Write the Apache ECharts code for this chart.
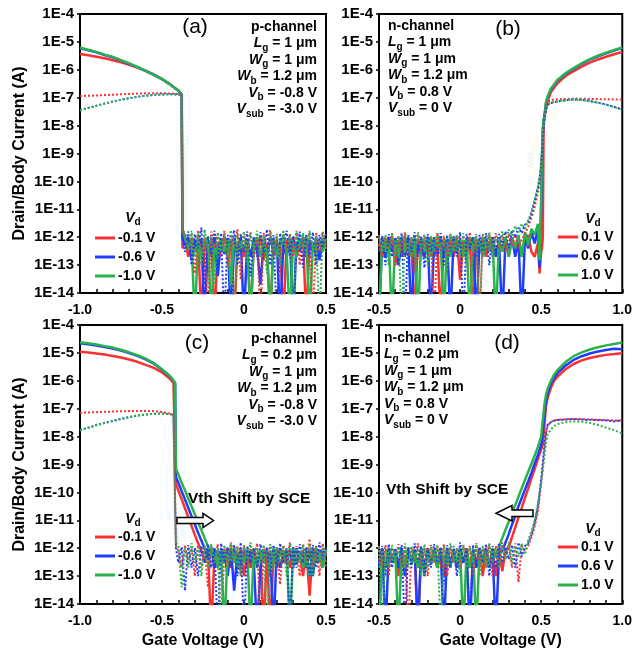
<!DOCTYPE html>
<html>
<head>
<meta charset="utf-8">
<script src="https://cdn.jsdelivr.net/npm/echarts@6/dist/echarts.min.js"></script>
<style>
  html, body { margin: 0; padding: 0; background: #fff; }
  #chart { width: 635px; height: 658px; }
</style>
</head>
<body>
<div id="chart"></div>
<script>
// ---- Gate voltage grids (V) ----
const vgA = [-1.0,-0.95,-0.9,-0.85,-0.8,-0.75,-0.7,-0.65,-0.6,-0.55,-0.5,-0.45,-0.42,-0.4,-0.38,-0.375,
  -0.36,-0.34,-0.32,-0.3,-0.28,-0.26,-0.24,-0.22,-0.2,-0.18,-0.16,-0.14,-0.12,-0.1,-0.08,-0.06,-0.04,-0.02,0,
  0.02,0.04,0.06,0.08,0.1,0.12,0.14,0.16,0.18,0.2,0.22,0.24,0.26,0.28,0.3,0.32,0.34,0.36,0.38,0.4,0.42,0.44,0.46,0.48,0.5];
const vgB = [-0.5,-0.48,-0.46,-0.44,-0.42,-0.4,-0.38,-0.36,-0.34,-0.32,-0.3,-0.28,-0.26,-0.24,-0.22,-0.2,-0.18,-0.16,-0.14,-0.12,-0.1,-0.08,-0.06,-0.04,-0.02,
  0,0.02,0.04,0.06,0.08,0.1,0.12,0.14,0.16,0.18,0.2,0.22,0.24,0.26,0.28,0.3,0.32,0.34,0.36,0.38,0.4,0.42,0.44,
  0.46,0.48,0.49,0.5,0.505,0.51,0.515,0.52,0.53,0.54,0.56,0.6,0.65,0.7,0.75,0.8,0.85,0.9,0.95,1.0];
const vgC = [-1.0,-0.95,-0.9,-0.85,-0.8,-0.75,-0.7,-0.65,-0.6,-0.55,-0.5,-0.45,-0.43,-0.42,-0.415,
  -0.4,-0.38,-0.36,-0.34,-0.32,-0.3,-0.28,-0.26,-0.24,-0.22,-0.2,-0.18,-0.16,-0.14,-0.12,-0.1,-0.08,-0.06,-0.04,-0.02,
  0,0.02,0.04,0.06,0.08,0.1,0.12,0.14,0.16,0.18,0.2,0.22,0.24,0.26,0.28,0.3,0.32,0.34,0.36,0.38,0.4,0.42,0.44,0.46,0.48,0.5];
const vgD = [-0.5,-0.48,-0.46,-0.44,-0.42,-0.4,-0.38,-0.36,-0.34,-0.32,-0.3,-0.28,-0.26,-0.24,-0.22,-0.2,-0.18,-0.16,-0.14,-0.12,-0.1,-0.08,-0.06,-0.04,-0.02,
  0,0.02,0.04,0.06,0.08,0.1,0.12,0.14,0.16,0.18,0.2,0.22,0.24,0.26,0.28,0.3,0.32,0.34,0.36,0.38,0.4,0.42,0.44,0.46,0.48,0.5,
  0.51,0.52,0.53,0.54,0.56,0.58,0.6,0.65,0.7,0.75,0.8,0.85,0.9,0.95,1.0];

// ---- (a) p-channel, Lg = 1 um : drain current (solid) ----
const idA_r = [3.7e-6,3.3e-6,2.95e-6,2.6e-6,2.2e-6,1.86e-6,1.5e-6,1.2e-6,9.1e-7,6.8e-7,4.7e-7,3.0e-7,2.2e-7,1.8e-7,1.3e-7,4e-13,
  8e-13,2e-13,9e-13,3e-13,1e-12,1e-15,7e-13,2.5e-13,9e-13,1e-15,6e-13,3e-13,1.1e-12,2e-13,8e-13,1e-15,5e-13,9e-13,2e-13,7e-13,1e-15,8e-13,3e-13,1e-12,1.5e-13,6e-13,1e-15,9e-13,2.5e-13,7e-13,1e-15,8e-13,3e-13,1e-12,2e-13,6e-13,9e-13,1e-15,7e-13,3e-13,8e-13,2e-13,9e-13,4e-13];
const idA_b = [5.9e-6,5.0e-6,4.2e-6,3.4e-6,2.8e-6,2.15e-6,1.65e-6,1.24e-6,9.2e-7,6.6e-7,4.6e-7,3.0e-7,2.2e-7,1.8e-7,1.3e-7,1e-12,
  5e-13,1e-12,1.5e-13,8e-13,3e-13,9e-13,1e-15,7e-13,2e-13,1e-12,4e-14,8e-13,2.5e-13,9e-13,1e-15,6e-13,3e-13,1e-12,1e-15,8e-13,2e-13,9e-13,4e-13,2e-14,7e-13,2e-13,1e-12,3e-13,8e-13,1e-15,6e-13,2e-13,9e-13,1e-15,7e-13,3e-13,1e-12,2e-13,8e-13,3e-13,9e-13,1.5e-13,7e-13,5e-13];
const idA_g = [6.2e-6,5.2e-6,4.4e-6,3.5e-6,2.9e-6,2.2e-6,1.7e-6,1.26e-6,9.3e-7,6.6e-7,4.6e-7,3.0e-7,2.2e-7,1.8e-7,1.3e-7,2e-12,
  1e-12,3e-13,8e-13,1e-15,9e-13,2e-13,7e-13,1e-12,1e-15,6e-13,2e-13,9e-13,3e-13,8e-13,2e-14,1e-12,2e-13,7e-13,3e-13,9e-13,1e-15,6e-13,1e-12,2e-13,8e-13,3e-13,1e-15,9e-13,2e-13,7e-13,1e-12,3e-13,1e-15,8e-13,2e-13,9e-13,4e-13,1e-12,1e-15,6e-13,2e-13,8e-13,3e-13,9e-13];
// body current (dotted)
const ibA_r = [1.15e-7,1.17e-7,1.2e-7,1.24e-7,1.28e-7,1.32e-7,1.36e-7,1.4e-7,1.43e-7,1.45e-7,1.45e-7,1.42e-7,1.38e-7,1.35e-7,1.3e-7,1.5e-12,
  1.5e-12,2e-13,1.2e-12,5e-14,1.8e-12,3e-13,1e-12,1e-15,1.6e-12,4e-13,1.3e-12,2e-13,1.7e-12,1e-13,1.1e-12,5e-13,1.9e-12,3e-14,1.2e-12,3e-13,1.5e-12,2e-13,1e-12,1e-15,1.4e-12,4e-13,1.8e-12,2e-13,1.1e-12,6e-14,1.6e-12,3e-13,1.3e-12,2e-13,1.7e-12,1e-13,1.2e-12,4e-13,1.5e-12,1e-15,1.4e-12,3e-13,1.6e-12,5e-13];
const ibA_b = [3.6e-8,4.3e-8,5.2e-8,6.2e-8,7.3e-8,8.4e-8,9.6e-8,1.08e-7,1.18e-7,1.26e-7,1.31e-7,1.33e-7,1.32e-7,1.3e-7,1.28e-7,8e-13,
  3e-13,1.6e-12,1e-13,1.3e-12,4e-13,2.2e-12,2e-14,1.1e-12,3e-13,1.7e-12,2e-13,1.4e-12,1e-15,1.2e-12,5e-13,1.8e-12,1e-13,1.3e-12,3e-13,1.6e-12,4e-14,1e-12,2e-13,1.5e-12,3e-13,1.9e-12,1e-13,1.2e-12,1e-15,1.4e-12,4e-13,1.7e-12,2e-13,1.1e-12,3e-13,1.6e-12,8e-14,1.3e-12,2e-13,1.5e-12,1e-13,1.2e-12,4e-13,1.4e-12];
const ibA_g = [3.5e-8,4.2e-8,5.1e-8,6.1e-8,7.2e-8,8.4e-8,9.6e-8,1.08e-7,1.18e-7,1.26e-7,1.31e-7,1.33e-7,1.32e-7,1.3e-7,1.28e-7,1.2e-12,
  1.2e-12,4e-13,1.7e-12,2e-13,1.4e-12,1e-13,1.9e-12,3e-13,1.1e-12,2e-14,1.5e-12,3e-13,1.3e-12,2e-13,1.8e-12,1e-15,1.2e-12,4e-13,1.6e-12,1e-13,1.4e-12,3e-13,1.7e-12,2e-13,1.1e-12,5e-14,1.5e-12,3e-13,1.3e-12,1e-13,1.8e-12,2e-13,1.2e-12,1e-15,1.6e-12,4e-13,1.4e-12,2e-13,1.7e-12,3e-13,1.1e-12,1e-15,1.5e-12,3e-13];

// ---- (b) n-channel, Lg = 1 um ----
const idB_r = [6e-13,2e-13,9e-13,3e-13,1e-12,1e-13,8e-13,2e-13,1e-12,3e-13,7e-13,1e-15,9e-13,2e-13,8e-13,4e-13,1e-12,2e-13,7e-13,1e-15,9e-13,3e-13,8e-13,2e-13,1e-12,3e-14,7e-13,2e-13,9e-13,1e-15,8e-13,3e-13,1e-12,2e-13,6e-13,9e-13,2e-13,8e-13,3e-13,1e-12,2e-13,9e-13,4e-13,1e-12,2e-13,8e-13,1.2e-12,3e-13,
  2e-13,6e-13,5e-14,3e-13,4e-13,1e-12,1e-8,2e-8,4e-8,7.5e-8,1.6e-7,3.3e-7,6e-7,9e-7,1.3e-6,1.8e-6,2.35e-6,2.95e-6,3.6e-6,4.4e-6];
const idB_b = [1e-15,8e-13,2e-13,1e-12,3e-13,9e-13,1e-13,7e-13,2e-13,1e-12,1e-15,8e-13,3e-13,9e-13,2e-13,1e-12,1e-15,7e-13,3e-13,9e-13,2e-13,8e-13,1e-15,1e-12,3e-13,7e-13,2e-13,9e-13,4e-13,1e-12,1e-15,8e-13,2e-13,9e-13,3e-13,1e-12,2e-13,7e-13,1e-15,9e-13,3e-13,1e-12,2e-13,8e-13,1e-15,1e-12,4e-13,1.5e-12,
  6e-13,2e-12,8e-14,1e-11,6e-10,6e-9,1.5e-8,2.1e-8,6.5e-8,1.05e-7,2e-7,4.1e-7,7.2e-7,1.1e-6,1.62e-6,2.3e-6,3.05e-6,3.9e-6,4.9e-6,6.0e-6];
const idB_g = [1e-15,1e-12,3e-13,8e-13,1e-15,9e-13,2e-13,1e-12,3e-13,7e-13,2e-13,1e-12,1e-15,8e-13,3e-13,9e-13,2e-13,1e-12,4e-13,8e-13,1e-15,9e-13,2e-13,1e-12,3e-13,8e-13,2e-13,9e-13,1e-15,1e-12,3e-13,8e-13,2e-13,9e-13,3e-13,1e-12,1e-15,8e-13,3e-13,1e-12,2e-13,9e-13,4e-13,1.2e-12,2e-13,1.5e-12,5e-13,2e-12,
  1.2e-12,3e-12,1.5e-13,3e-11,1e-9,8e-9,1.6e-8,2.2e-8,7e-8,1.1e-7,2.1e-7,4.3e-7,7.5e-7,1.15e-6,1.7e-6,2.4e-6,3.2e-6,4.1e-6,5.1e-6,6.3e-6];
const ibB_r = [1.2e-12,2e-13,1e-12,4e-13,1.4e-12,1e-13,1.1e-12,3e-13,1.5e-12,2e-13,1e-12,5e-14,1.3e-12,3e-13,1.2e-12,2e-13,1e-12,1e-15,1.4e-12,3e-13,1.1e-12,2e-13,1.3e-12,4e-13,1.2e-12,1e-13,1e-12,3e-13,1.5e-12,2e-13,1.1e-12,1e-15,1.3e-12,3e-13,1.2e-12,2e-13,1.4e-12,4e-13,1.1e-12,3e-13,1.3e-12,5e-13,1.2e-12,4e-13,8e-13,1.3e-12,2.4e-12,5e-12,
  1.2e-11,4e-11,9e-11,3e-10,8e-10,2.5e-9,8e-9,2e-8,5e-8,7e-8,8.3e-8,8.8e-8,9e-8,9.2e-8,9.2e-8,9e-8,8.9e-8,8.8e-8,8.7e-8,8.6e-8];
const ibB_b = [3e-13,1.1e-12,1e-13,1.3e-12,2e-13,1e-12,4e-13,1.4e-12,1e-15,1.2e-12,3e-13,1.5e-12,2e-13,1.1e-12,8e-14,1.3e-12,3e-13,1e-12,2e-13,1.4e-12,1e-13,1.2e-12,3e-13,1.1e-12,2e-13,1.5e-12,1e-15,1.3e-12,4e-13,1e-12,2e-13,1.2e-12,3e-13,1.4e-12,1e-13,1.1e-12,3e-13,1.3e-12,5e-13,1.6e-12,4e-13,1.8e-12,1e-12,2.2e-12,1.4e-12,2.8e-12,3.5e-12,7e-12,
  2e-11,6e-11,1.3e-10,4e-10,1e-9,3e-9,9e-9,2e-8,4e-8,5.5e-8,6.5e-8,7.3e-8,8e-8,8.6e-8,8.4e-8,7.6e-8,6.7e-8,5.7e-8,4.7e-8,3.8e-8];
const ibB_g = [1e-12,3e-13,1.2e-12,1e-13,1.4e-12,2e-13,1.1e-12,1e-15,1.3e-12,3e-13,1e-12,2e-13,1.5e-12,4e-13,1.2e-12,1e-13,1.1e-12,3e-13,1.4e-12,2e-13,1e-12,6e-14,1.3e-12,3e-13,1.2e-12,2e-13,1.4e-12,1e-13,1.1e-12,3e-13,1.3e-12,1e-15,1.2e-12,4e-13,1.5e-12,2e-13,1.1e-12,5e-13,1.6e-12,6e-13,1.9e-12,1.1e-12,2.5e-12,1.5e-12,3e-12,2e-12,4e-12,8e-12,
  2.2e-11,6.5e-11,1.4e-10,4.2e-10,1.1e-9,3.2e-9,9.5e-9,2.1e-8,4.1e-8,5.6e-8,6.6e-8,7.4e-8,8.1e-8,8.6e-8,8.3e-8,7.5e-8,6.6e-8,5.6e-8,4.6e-8,3.7e-8];

// ---- (c) p-channel, Lg = 0.2 um ----
const idC_r = [1.1e-5,1.03e-5,9.6e-6,8.8e-6,7.8e-6,6.8e-6,5.8e-6,4.8e-6,3.7e-6,2.9e-6,2.0e-6,1.15e-6,8.3e-7,7.2e-7,2e-10,
  1.15e-10,5.6e-11,2.7e-11,1.3e-11,6.3e-12,3e-12,1.5e-12,8e-13,
  3e-13,1e-12,1e-15,6e-13,2e-13,9e-13,3e-13,1e-12,2e-13,8e-13,3e-13,9e-13,1e-13,7e-13,2e-13,1e-12,3e-13,8e-13,1e-15,9e-13,1e-15,7e-13,2e-13,1e-12,3e-13,8e-13,2e-13,9e-13,3e-13,7e-13,1e-13,8e-13,2e-14,1e-12,3e-13,9e-13,2e-13,8e-13];
const idC_b = [2.2e-5,2.02e-5,1.84e-5,1.62e-5,1.43e-5,1.21e-5,9.8e-6,7.8e-6,5.9e-6,4.1e-6,2.5e-6,1.4e-6,1.0e-6,8.2e-7,3.6e-10,
  2.2e-10,1.1e-10,5.6e-11,2.8e-11,1.4e-11,7.2e-12,3.6e-12,1.9e-12,1e-12,
  4e-13,1e-12,2e-13,8e-13,3e-13,9e-13,1e-13,1e-12,3e-14,7e-13,2e-13,9e-13,2e-13,8e-13,3e-13,1e-15,2e-13,9e-13,3e-13,8e-13,1e-15,1e-12,2e-13,7e-13,3e-13,9e-13,2e-13,1e-12,4e-13,8e-13,2e-13,9e-13,1e-13,1e-12,3e-13,8e-13,5e-13];
const idC_g = [2.4e-5,2.2e-5,2.0e-5,1.75e-5,1.55e-5,1.3e-5,1.05e-5,8.3e-6,6.2e-6,4.3e-6,2.6e-6,1.45e-6,1.05e-6,8.5e-7,7e-10,
  4.4e-10,2.2e-10,1.2e-10,6e-11,3.2e-11,1.65e-11,8.5e-12,4.5e-12,2.3e-12,1.2e-12,
  5e-13,1e-12,2e-13,9e-13,1e-15,8e-13,3e-13,1e-12,2e-13,7e-13,3e-13,9e-13,1e-15,1e-12,2e-13,8e-13,3e-13,9e-13,1e-13,1e-12,2e-13,8e-13,4e-13,9e-13,1e-15,1e-12,3e-13,8e-13,2e-13,9e-13,1e-13,1e-12,3e-13,7e-13,2e-13,9e-13];
const ibC_r = [7.2e-8,7.3e-8,7.5e-8,7.7e-8,7.9e-8,8.1e-8,8.2e-8,8.3e-8,8.3e-8,8.2e-8,7.6e-8,6.6e-8,6e-8,5.7e-8,1.2e-12,
  8e-13,2e-13,1.3e-12,3e-13,1e-12,1e-13,1.5e-12,2e-13,1.1e-12,4e-14,1.2e-12,3e-13,1.4e-12,1e-15,1e-12,2e-13,1.6e-12,3e-13,1.2e-12,1e-13,1.3e-12,2e-13,1e-12,4e-13,1.5e-12,1e-15,1.2e-12,3e-13,1.4e-12,2e-13,1.1e-12,5e-14,1.3e-12,3e-13,1.6e-12,2e-13,1.2e-12,1e-13,1.4e-12,3e-13,2.2e-12,2e-13,1.3e-12,1e-13,1.5e-12,3e-13];
const ibC_b = [1.7e-8,2.1e-8,2.6e-8,3.1e-8,3.6e-8,4.3e-8,5e-8,5.7e-8,6.2e-8,6.6e-8,6.7e-8,6.4e-8,6e-8,5.7e-8,1e-12,
  3e-13,1.1e-12,3e-14,1.3e-12,2e-13,1e-12,1e-13,1.2e-12,3e-13,1.4e-12,2e-13,1e-12,1e-15,1.5e-12,3e-13,1.1e-12,2e-13,1.3e-12,1e-13,1.6e-12,1e-15,1.2e-12,3e-13,1e-12,2e-13,1.4e-12,4e-13,1.1e-12,1e-13,1.3e-12,2e-13,1.5e-12,3e-13,1e-12,1e-15,1.2e-12,2e-13,1.4e-12,3e-13,1.1e-12,1e-13,1.3e-12,2e-13,1.6e-12,4e-13,1.2e-12];
const ibC_g = [1.65e-8,2.05e-8,2.55e-8,3.05e-8,3.6e-8,4.3e-8,5e-8,5.7e-8,6.2e-8,6.6e-8,6.7e-8,6.4e-8,6e-8,5.7e-8,1.5e-12,
  1.3e-12,4e-14,1e-12,2e-13,1.5e-12,3e-13,1.1e-12,1e-13,1.2e-12,2e-13,1.4e-12,3e-13,1e-12,1e-15,1.3e-12,2e-13,1.5e-12,3e-13,1.1e-12,1e-13,1.2e-12,4e-13,1.6e-12,2e-13,1e-12,3e-13,1.3e-12,1e-15,1.4e-12,2e-13,1.1e-12,3e-13,1.2e-12,1e-13,1.5e-12,2e-13,1e-12,3e-13,1.3e-12,2e-13,1.4e-12,1e-13,1.1e-12,3e-13,1.2e-12,2e-13];

// ---- (d) n-channel, Lg = 0.2 um ----
const idD_r = [3e-13,9e-13,2e-13,1e-12,3e-13,8e-13,1e-13,9e-13,2e-13,1e-12,3e-13,8e-13,1e-15,9e-13,2e-13,1e-12,3e-13,7e-13,2e-13,9e-13,1e-13,1e-12,3e-13,8e-13,2e-13,9e-13,3e-13,1e-12,2e-13,8e-13,3e-13,9e-13,1e-13,1e-12,2e-13,8e-13,1e-13,9e-13,1.5e-13,8e-13,
  1.1e-12,2.5e-12,5.6e-12,1.26e-11,2.8e-11,6.3e-11,1.4e-10,3.2e-10,7e-10,1.6e-9,3.5e-9,
  5.6e-9,2.5e-8,1.26e-7,2.5e-7,5.6e-7,1e-6,1.4e-6,2.6e-6,4e-6,5.4e-6,6.6e-6,7.6e-6,8.5e-6,9.1e-6,9.8e-6];
const idD_b = [2e-13,1e-12,1e-15,8e-13,3e-13,9e-13,2e-13,1e-12,1e-13,8e-13,3e-13,9e-13,1e-15,1e-12,2e-13,8e-13,3e-13,9e-13,2e-13,1e-12,1e-15,8e-13,3e-13,9e-13,2e-13,1e-12,3e-13,8e-13,1e-15,9e-13,2e-13,1e-12,3e-13,8e-13,2e-13,9e-13,1e-15,6e-13,
  8e-13,1.6e-12,3.2e-12,7e-12,1.4e-11,3.2e-11,6.3e-11,1.26e-10,2.5e-10,5e-10,1.1e-9,2.2e-9,5e-9,
  1.26e-8,6.3e-8,2e-7,3.5e-7,8e-7,1.26e-6,1.9e-6,3.5e-6,5.6e-6,7.6e-6,9.5e-6,1.12e-5,1.26e-5,1.4e-5,1.35e-5];
const idD_g = [1e-15,9e-13,2e-13,1e-12,3e-13,8e-13,1e-15,9e-13,2e-13,1e-12,3e-13,7e-13,2e-13,1e-12,1e-13,8e-13,3e-13,9e-13,2e-13,1e-12,3e-13,8e-13,2e-13,9e-13,3e-13,1e-12,1e-15,8e-13,2e-13,9e-13,1e-15,1e-12,3e-13,8e-13,2e-13,1e-12,5e-13,
  1.15e-12,2.3e-12,4.6e-12,9e-12,1.8e-11,3.5e-11,7e-11,1.4e-10,2.8e-10,5.5e-10,1.07e-9,2.1e-9,4.3e-9,1e-8,
  4e-8,1.4e-7,3.2e-7,5.2e-7,1e-6,1.66e-6,2.4e-6,4.7e-6,7.6e-6,1.05e-5,1.32e-5,1.6e-5,1.86e-5,2.1e-5,2.35e-5];
const ibD_r = [1.1e-12,2e-13,1.3e-12,1e-13,1e-12,3e-13,1.4e-12,2e-13,1.2e-12,1e-15,1.1e-12,3e-13,1.5e-12,2e-13,1e-12,1e-13,1.3e-12,3e-13,1.2e-12,2e-13,1.4e-12,1e-13,1.1e-12,3e-13,1e-12,2e-13,1.3e-12,4e-13,1.2e-12,1e-13,1.5e-12,3e-13,1.1e-12,2e-13,1.4e-12,1e-13,1.2e-12,3e-13,1.6e-12,4e-13,1.3e-12,2e-13,1.5e-12,6e-14,1.2e-12,
  8e-13,1.2e-12,2.5e-12,6e-12,2e-11,2e-10,
  8e-10,3e-9,1.4e-8,2.5e-8,3.4e-8,3.8e-8,4e-8,4.2e-8,4.3e-8,4.2e-8,4.1e-8,4e-8,3.9e-8,3.8e-8,3.8e-8];
const ibD_b = [3e-13,1.2e-12,1e-13,1.4e-12,2e-13,1e-12,3e-13,1.3e-12,1e-15,1.1e-12,2e-13,1.5e-12,3e-13,1.2e-12,1e-13,1e-12,2e-13,1.4e-12,3e-13,1.1e-12,5e-14,1.3e-12,2e-13,1.2e-12,1e-13,1.6e-12,3e-13,1e-12,1e-15,1.3e-12,2e-13,1.1e-12,3e-13,1.4e-12,1e-13,1.2e-12,2e-13,1.5e-12,3e-13,1.1e-12,4e-13,1.3e-12,2e-13,1.6e-12,5e-13,1.2e-12,
  1.5e-12,3e-12,8e-12,3e-11,3e-10,
  1.2e-9,5e-9,1.6e-8,2.6e-8,3.3e-8,3.7e-8,3.9e-8,4.1e-8,4.2e-8,4.1e-8,4e-8,3.9e-8,3.8e-8,3.5e-8,3.8e-8];
const ibD_g = [1.2e-12,1e-15,1e-12,2e-13,1.3e-12,3e-13,1.1e-12,1e-13,1.5e-12,2e-13,1.2e-12,3e-13,1e-12,1e-13,1.4e-12,2e-13,1.1e-12,3e-13,1.3e-12,1e-15,1.2e-12,2e-13,1.5e-12,3e-13,1e-12,1e-13,1.3e-12,2e-13,1.1e-12,3e-13,1.4e-12,1e-13,1.2e-12,2e-13,1.5e-12,3e-13,1e-12,2e-13,1.3e-12,4e-13,1.6e-12,3e-13,1.2e-12,5e-13,1.5e-12,6e-13,
  2e-12,4e-12,1e-11,4e-11,2.5e-10,
  6e-10,2e-9,6e-9,1.2e-8,1.8e-8,2.4e-8,2.8e-8,3.3e-8,3.5e-8,3.4e-8,3.1e-8,2.6e-8,2.1e-8,1.7e-8,1.3e-8];

// ---- legend names and tick labels ----
const P_NAMES = ['-0.1 V', '-0.6 V', '-1.0 V'];
const N_NAMES = ['0.1 V', '0.6 V', '1.0 V'];
const Y_LABELS = ['1E-14','1E-13','1E-12','1E-11','1E-10','1E-9','1E-8','1E-7','1E-6','1E-5','1E-4'];
const X_TICKS_P = [-1.0, -0.5, 0, 0.5];
const X_LABELS_P = ['-1.0', '-0.5', '0', '0.5'];
const X_TICKS_N = [-0.5, 0, 0.5, 1.0];
const X_LABELS_N = ['-0.5', '0', '0.5', '1.0'];

const FONT = '"Liberation Sans", Arial, Helvetica, sans-serif';
const COLORS = ['#f83232', '#1f3cff', '#2bb24c'];

const panels = [
  { vg: vgA, id: [idA_r, idA_b, idA_g], ib: [ibA_r, ibA_b, ibA_g], names: P_NAMES, xmin: -1.0, xmax: 0.5, ticks: X_TICKS_P, labels: X_LABELS_P,
    grid: { left: 80, top: 14, width: 246, height: 279 } },
  { vg: vgB, id: [idB_r, idB_b, idB_g], ib: [ibB_r, ibB_b, ibB_g], names: N_NAMES, xmin: -0.5, xmax: 1.0, ticks: X_TICKS_N, labels: X_LABELS_N,
    grid: { left: 379, top: 14, width: 246, height: 279 } },
  { vg: vgC, id: [idC_r, idC_b, idC_g], ib: [ibC_r, ibC_b, ibC_g], names: P_NAMES, xmin: -1.0, xmax: 0.5, ticks: X_TICKS_P, labels: X_LABELS_P,
    grid: { left: 80, top: 325, width: 246, height: 279 } },
  { vg: vgD, id: [idD_r, idD_b, idD_g], ib: [ibD_r, ibD_b, ibD_g], names: N_NAMES, xmin: -0.5, xmax: 1.0, ticks: X_TICKS_N, labels: X_LABELS_N,
    grid: { left: 379, top: 325, width: 246, height: 279 } }
];

const pts = (xs, ys) => xs.map((x, i) => [x, ys[i]]);
const boldText = { fontFamily: FONT, fontWeight: 'bold', color: '#000' };

const grids = [], xAxes = [], yAxes = [], series = [];
panels.forEach((p, k) => {
  grids.push(Object.assign({ show: true, borderColor: '#000', borderWidth: 2, backgroundColor: 'transparent' }, p.grid));
  xAxes.push({
    type: 'value', gridIndex: k, min: p.xmin, max: p.xmax, interval: 0.5,
    axisLine: { onZero: false, lineStyle: { color: '#000', width: 2 } },
    axisTick: { inside: true, length: 4, lineStyle: { color: '#000', width: 1.5 } },
    minorTick: { show: true, splitNumber: 5, length: 4, lineStyle: { color: '#000', width: 1.5 } },
    splitLine: { show: false },
    axisLabel: Object.assign({ fontSize: 14, margin: 10,
      formatter: v => { const i = p.ticks.findIndex(t => Math.abs(t - v) < 1e-9); return i < 0 ? '' : p.labels[i]; } }, boldText),
    name: k >= 2 ? 'Gate Voltage (V)' : '', nameLocation: 'middle', nameGap: 29,
    nameTextStyle: Object.assign({ fontSize: 16 }, boldText)
  });
  yAxes.push({
    type: 'log', logBase: 10, gridIndex: k, min: 1e-14, max: 1e-4, splitNumber: 10, interval: 1,
    axisLine: { onZero: false, lineStyle: { color: '#000', width: 2 } },
    axisTick: { show: true, length: 3, lineStyle: { color: '#000', width: 1.5 } },
    splitLine: { show: false },
    axisLabel: Object.assign({ fontSize: 15, margin: 6, showMinLabel: true, showMaxLabel: true,
      formatter: v => Y_LABELS[Math.round(Math.log10(v)) + 14] || '' }, boldText),
    name: (k % 2 === 0) ? 'Drain/Body Current (A)' : '', nameLocation: 'middle', nameGap: 52,
    nameTextStyle: Object.assign({ fontSize: 16 }, boldText)
  });
  // drain current: solid lines
  p.id.forEach((ys, j) => series.push({
    type: 'line', name: p.names[j], xAxisIndex: k, yAxisIndex: k, data: pts(p.vg, ys),
    symbol: 'none', clip: true, z: 2 + j * 0.1,
    lineStyle: { color: COLORS[j], width: 2.5 }, itemStyle: { color: COLORS[j] }
  }));
});
panels.forEach((p, k) => {
  // body current: dotted lines
  p.ib.forEach((ys, j) => series.push({
    type: 'line', name: 'Ib ' + p.names[j], xAxisIndex: k, yAxisIndex: k, data: pts(p.vg, ys),
    symbol: 'none', clip: true, z: 3 + j * 0.1,
    lineStyle: { color: COLORS[j], width: 2, type: [2, 2] }, itemStyle: { color: COLORS[j] }
  }));
});

const legendBase = {
  orient: 'vertical', icon: 'rect', itemWidth: 20, itemHeight: 3, itemGap: 3, padding: 0, selectedMode: false,
  textStyle: Object.assign({ fontSize: 14, lineHeight: 16, padding: [0, 0, 0, -2] }, boldText)
};
const legends = [
  Object.assign({ data: P_NAMES, left: 95, top: 230 }, legendBase),
  Object.assign({ data: N_NAMES, left: 558, top: 229 }, legendBase),
  Object.assign({ data: P_NAMES, left: 95, top: 529 }, legendBase),
  Object.assign({ data: N_NAMES, left: 558, top: 539 }, legendBase)
];

// rich text styles for the device parameter blocks
const RICH = {
  n: { fontFamily: FONT, fontWeight: 'bold', fontSize: 14, lineHeight: 16.5, verticalAlign: 'top', fill: '#000' },
  i: { fontFamily: FONT, fontWeight: 'bold', fontStyle: 'italic', fontSize: 14, lineHeight: 16.5, verticalAlign: 'top', fill: '#000' },
  s: { fontFamily: FONT, fontWeight: 'bold', fontSize: 10, lineHeight: 16.5, verticalAlign: 'bottom', fill: '#000' }
};
const paramText = (ch, lg, vb, vsub) => [
  '{n|' + ch + '}',
  '{i|L}{s|g}{n| = ' + lg + ' μm}',
  '{i|W}{s|g}{n| = 1 μm}',
  '{i|W}{s|b}{n| = 1.2 μm}',
  '{i|V}{s|b}{n| = ' + vb + ' V}',
  '{i|V}{s|sub}{n| = ' + vsub + ' V}'
].join('\n');

const textEl = (x, y, text, align) => ({
  type: 'text', x: x, y: y, z: 100, silent: true,
  style: { text: text, rich: RICH, align: align, verticalAlign: 'top', fill: '#000' }
});
const panelTag = (x, y, t) => ({
  type: 'text', x: x, y: y, z: 100, silent: true,
  style: { text: t, fontFamily: FONT, fontSize: 21, fill: '#000', align: 'center', verticalAlign: 'middle' }
});
const vdHead = (x, y) => ({
  type: 'text', x: x, y: y, z: 100, silent: true,
  style: { text: '{i|V}{s|d}', rich: RICH, align: 'center', verticalAlign: 'middle' }
});
const sceText = (x, y) => ({
  type: 'text', x: x, y: y, z: 100, silent: true,
  style: { text: 'Vth Shift by SCE', fontFamily: FONT, fontWeight: 'bold', fontSize: 15.5, fill: '#000', align: 'left', verticalAlign: 'middle' }
});
const arrowStyle = { fill: '#fff', stroke: '#000', lineWidth: 1.5 };

const graphics = [
  panelTag(195, 27, '(a)'), panelTag(508, 29, '(b)'), panelTag(197, 343, '(c)'), panelTag(507, 343, '(d)'),
  textEl(317, 20, paramText('p-channel', '1', '-0.8', '-3.0'), 'right'),
  textEl(388, 19, paramText('n-channel', '1', '0.8', '0'), 'left'),
  textEl(317, 332, paramText('p-channel', '0.2', '-0.8', '-3.0'), 'right'),
  textEl(384, 331, paramText('n-channel', '0.2', '0.8', '0'), 'left'),
  vdHead(133, 219), vdHead(593, 220), vdHead(133, 520), vdHead(593, 530),
  sceText(188, 499), sceText(386, 490),
  { type: 'polygon', z: 100, silent: true, style: arrowStyle,
    shape: { points: [[177, 517.5], [203, 517.5], [203, 513.5], [213.5, 520.5], [203, 527.5], [203, 523.5], [177, 523.5]] } },
  { type: 'polygon', z: 100, silent: true, style: arrowStyle,
    shape: { points: [[533, 510], [512, 510], [512, 505.5], [496, 513.3], [512, 521], [512, 516.5], [533, 516.5]] } }
];

const chart = echarts.init(document.getElementById('chart'), null, { renderer: 'canvas' });
chart.setOption({
  animation: false,
  backgroundColor: '#fff',
  textStyle: { fontFamily: FONT },
  grid: grids,
  xAxis: xAxes,
  yAxis: yAxes,
  legend: legends,
  series: series,
  graphic: graphics
});
</script>
</body>
</html>
